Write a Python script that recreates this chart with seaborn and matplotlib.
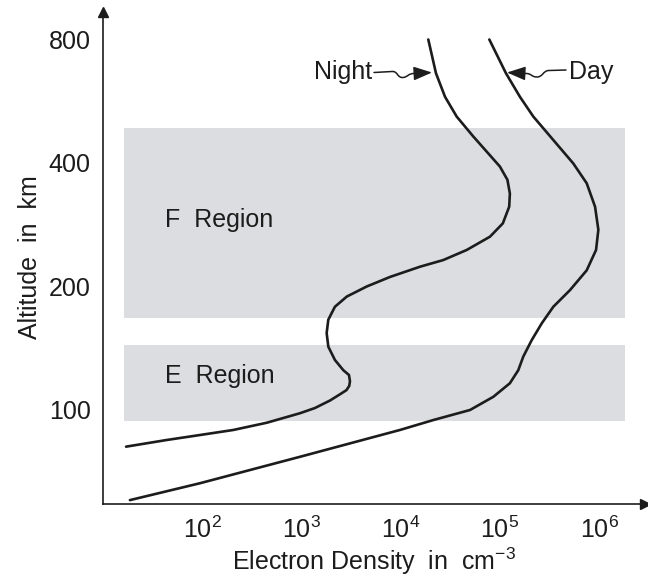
import matplotlib
matplotlib.use('Agg')
import numpy as np
import pandas as pd
import seaborn as sns
import matplotlib.pyplot as plt
from matplotlib.path import Path
from matplotlib.patches import FancyArrowPatch

# ---------------- data ----------------
night_density = [1.90e4, 2.27e4, 2.80e4, 3.67e4, 5.40e4, 7.64e4, 1.00e5, 1.19e5, 1.26e5,
                 1.24e5, 1.07e5, 7.94e4, 4.63e4, 2.69e4, 1.57e4, 7.82e3, 4.56e3, 2.87e3,
                 2.18e3, 1.87e3, 1.80e3, 1.87e3, 2.18e3, 2.65e3, 3.02e3, 3.09e3, 3.04e3,
                 2.85e3, 2.45e3, 1.95e3, 1.37e3, 970, 449, 207, 95.5, 44.1, 17.2]
night_altitude = [800, 662, 580, 519, 464, 422, 392, 364, 337,
                  313, 285, 264.5, 245.5, 232, 223.5, 211, 200, 189,
                  178.5, 166, 154, 142.7, 132.4, 125, 121.7, 117.5, 114.5,
                  111.8, 109.2, 105.5, 101.1, 98.2, 93.1, 89.4, 86.9, 84.5, 81.4]

day_density = [7.82e4, 1.15e5, 1.59e5, 2.17e5, 3.45e5, 5.48e5, 7.48e5, 9.08e5, 9.80e5,
               9.29e5, 7.48e5, 5.08e5, 3.45e5, 2.64e5, 2.09e5, 1.72e5, 1.53e5, 1.26e5,
               8.59e4, 5.00e4, 2.13e4, 9.86e3, 970, 95.5, 18.8]
day_altitude = [800, 662, 580, 519, 455, 399, 357, 313, 275,
                245.5, 219, 196, 178.5, 162.7, 148, 135, 125, 116.2,
                107.7, 100, 94.5, 89.4, 76.9, 66.3, 60.3]

region_names = ["F  Region", "E  Region"]
region_low = [168, 94.2]
region_high = [486, 143.8]
region_density = [16.4, 1.82e6]

x_ticks = [1e2, 1e3, 1e4, 1e5, 1e6]
x_tick_labels = [r"$10^{2}$", r"$10^{3}$", r"$10^{4}$", r"$10^{5}$", r"$10^{6}$"]
y_ticks = [100, 200, 400, 800]
y_tick_labels = ["100", "200", "400", "800"]

# ---------------- style ----------------
sns.set_style("white")
plt.rcParams['font.family'] = ['Liberation Sans', 'DejaVu Sans']
plt.rcParams['mathtext.fontset'] = 'custom'
plt.rcParams['mathtext.rm'] = 'Liberation Sans'
plt.rcParams['mathtext.it'] = 'Liberation Sans'
plt.rcParams['mathtext.default'] = 'regular'

ink = "#1c1c1c"
shade = "#dcdde0"
fs = 18
W, H = 648, 578

fig = plt.figure(figsize=(W / 100, H / 100), dpi=100)
ax = fig.add_axes([103 / W, (H - 504) / H, (645 - 103) / W, (504 - 10) / H])
ax.set_xscale('log')
ax.set_yscale('log')

# shaded regions
for name, lo, hi in zip(region_names, region_low, region_high):
    ax.fill_between(region_density, [lo, lo], [hi, hi], color=shade, lw=0, zorder=0)

night = pd.DataFrame({"density": night_density, "altitude": night_altitude})
day = pd.DataFrame({"density": day_density, "altitude": day_altitude})
for df in [night, day]:
    sns.lineplot(data=df, x="density", y="altitude", sort=False, estimator=None,
                 color=ink, lw=1.9, solid_joinstyle='round', solid_capstyle='round',
                 ax=ax)

ax.set_xlim(10 ** 1.003, 10 ** 6.461)
ax.set_ylim(59.0, 944)

ax.set_xticks(x_ticks)
ax.set_xticklabels(x_tick_labels)
ax.set_yticks(y_ticks)
ax.set_yticklabels(y_tick_labels)
ax.minorticks_off()
ax.tick_params(axis='both', direction='in', length=10, width=1.0, color=ink,
               labelsize=fs, labelcolor=ink)
ax.tick_params(axis='y', pad=9)
ax.tick_params(axis='x', pad=9)

for s in ['top', 'right']:
    ax.spines[s].set_visible(False)
for s in ['left', 'bottom']:
    ax.spines[s].set_color(ink)
    ax.spines[s].set_linewidth(1.2)

# axis arrows
ax.plot(1, 0, ">", color=ink, ms=7, transform=ax.transAxes, clip_on=False)
ax.plot(0, 0.995, "^", color=ink, ms=7, transform=ax.transAxes, clip_on=False)

ax.set_xlabel("Electron Density  in  cm$^{-3}$", fontsize=fs, color=ink, labelpad=2)
ax.set_ylabel("Altitude  in  km", fontsize=fs, color=ink, labelpad=5)

# region labels
ax.text(0.114, 0.575, region_names[0], transform=ax.transAxes, fontsize=fs,
        color=ink, va='center', ha='left')
ax.text(0.114, 0.259, region_names[1], transform=ax.transAxes, fontsize=fs,
        color=ink, va='center', ha='left')


# squiggly pointers (figure pixel positions)
def fp(px, py):
    return (px / W, 1 - py / H)


def squiggle(pts):
    codes = [Path.MOVETO, Path.LINETO,
             Path.CURVE4, Path.CURVE4, Path.CURVE4,
             Path.CURVE4, Path.CURVE4, Path.CURVE4,
             Path.LINETO]
    return Path([fp(*p) for p in pts], codes)


night_ptr = squiggle([(374, 72.5), (392, 71.5),
                      (398, 71), (397, 78), (403, 77.5),
                      (408, 77), (408, 73.5), (414, 73.5),
                      (432, 72.5)])
day_ptr = squiggle([(566, 70), (549, 70.5),
                    (543, 70.5), (543, 77), (537, 77),
                    (531, 77), (532, 73.5), (526, 73.5),
                    (507, 72.5)])
for p in [night_ptr, day_ptr]:
    fig.add_artist(FancyArrowPatch(path=p, transform=fig.transFigure,
                                   arrowstyle='-|>,head_length=0.8,head_width=0.3',
                                   mutation_scale=14, color=ink, lw=1.1))

fig.text(*fp(372, 72), "Night", fontsize=fs, color=ink, ha='right', va='center')
fig.text(*fp(569, 72), "Day", fontsize=fs, color=ink, ha='left', va='center')

fig.savefig("out.png", dpi=100)
